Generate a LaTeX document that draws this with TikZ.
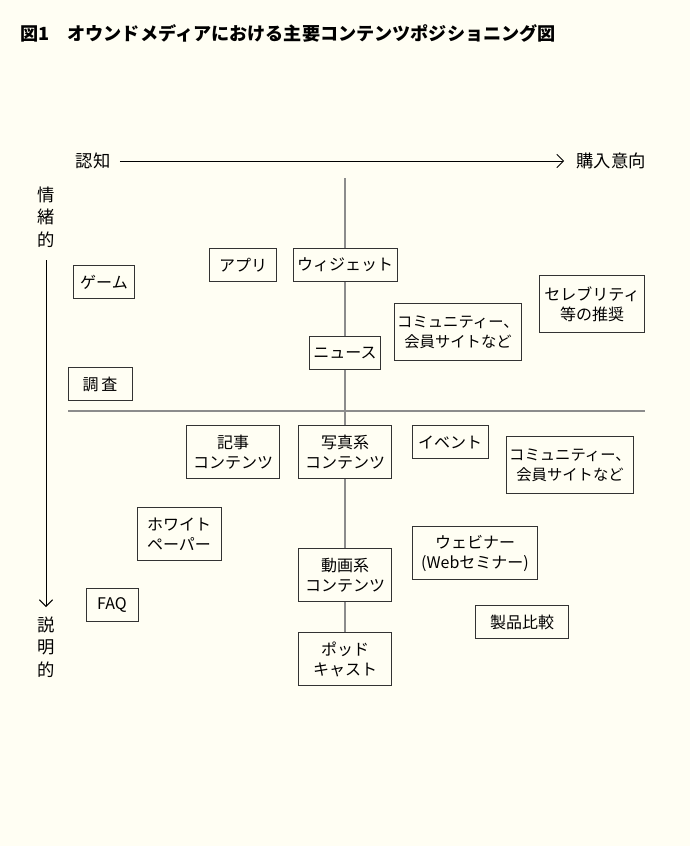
\documentclass[tikz,border=0pt]{standalone}
\usepackage{fontspec}
\setmainfont{Noto Sans CJK JP}
\usetikzlibrary{arrows.meta}
\definecolor{paper}{HTML}{FFFEF3}
\definecolor{axisgray}{HTML}{8C8C8C}
\tikzset{
  cbox/.style={draw=black!80, fill=paper, line width=0.7pt, align=center, inner sep=2pt,
    font=\fontsize{12}{15}\selectfont, minimum height=25pt},
  lbl/.style={font=\fontsize{13}{15}\selectfont, inner sep=1pt}
}
\begin{document}
\begin{tikzpicture}[x=0.75pt,y=-0.75pt]
\fill[paper] (0,0) rectangle (690,846);
\useasboundingbox (0,0) rectangle (690,846);

% title
\node[anchor=west, font=\fontsize{13.6}{15}\selectfont\bfseries, inner sep=0pt] (title) at (20,33)
  {図1\quad オウンドメディアにおける主要コンテンツポジショニング図};

% axis labels
\node[lbl] (aware) at (93,161) {認知};
\node[lbl] (buy) at (611,161) {購入意向};
\node[lbl, align=center, font=\fontsize{13}{17}\selectfont] (emo) at (46,217) {情\\緒\\的};
\node[lbl, align=center, font=\fontsize{13}{17}\selectfont] (expl) at (46,647) {説\\明\\的};
\draw[-{Straight Barb[length=5pt]}, line width=0.7pt] (aware.east) ++(8,0) -- ([xshift=-8]buy.west);
\draw[-{Straight Barb[length=5pt]}, line width=0.7pt] (46,260) -- (46,607);

% quadrant lines
\coordinate (vtop) at (345,178);
\coordinate (hl) at (68,411);
\coordinate (hr) at (645,411);
\draw[axisgray, line width=2pt] (hl) -- (hr);

% content boxes
\node[cbox, minimum width=46pt] (game) at (104,282) {ゲーム};
\node[cbox, minimum width=50pt] (app) at (243,265) {アプリ};
\node[cbox, minimum width=78pt] (widget) at (345,265) {ウィジェット};
\node[cbox, minimum width=79pt, minimum height=43pt] (celeb) at (592,304) {セレブリティ\\等の推奨};
\node[cbox, minimum width=95pt, minimum height=43pt, font=\fontsize{11.5}{15}\selectfont] (commA) at (458,332) {コミュニティー、\\会員サイトなど};
\node[cbox, minimum width=53pt] (news) at (345,353) {ニュース};
\node[cbox, minimum width=48pt] (survey) at (100,384) {調\,査};
\node[cbox, minimum width=70pt, minimum height=40pt] (article) at (233,452) {記事\\コンテンツ};
\node[cbox, minimum width=70pt, minimum height=40pt] (photo) at (345,452) {写真系\\コンテンツ};
\node[cbox, minimum width=57pt] (event) at (450,442) {イベント};
\node[cbox, minimum width=95pt, minimum height=43pt, font=\fontsize{11.5}{15}\selectfont] (commB) at (570,465) {コミュニティー、\\会員サイトなど};
\node[cbox, minimum width=63pt, minimum height=40pt] (white) at (179,534) {ホワイト\\ペーパー};
\node[cbox, minimum width=94pt, minimum height=40pt] (webinar) at (475,553) {ウェビナー\\(Webセミナー)};
\node[cbox, minimum width=70pt, minimum height=40pt] (video) at (345,575) {動画系\\コンテンツ};
\node[cbox, minimum width=39pt] (faq) at (112,605) {FAQ};
\node[cbox, minimum width=70pt] (compare) at (522,622) {製品比較};
\node[cbox, minimum width=70pt, minimum height=40pt] (podcast) at (345,659) {ポッド\\キャスト};

% vertical spine between the centre boxes
\draw[axisgray, line width=2pt] (vtop) -- (widget.north);
\draw[axisgray, line width=2pt] (widget.south) -- (news.north);
\draw[axisgray, line width=2pt] (news.south) -- (photo.north);
\draw[axisgray, line width=2pt] (photo.south) -- (video.north);
\draw[axisgray, line width=2pt] (video.south) -- (podcast.north);
\end{tikzpicture}
\end{document}
